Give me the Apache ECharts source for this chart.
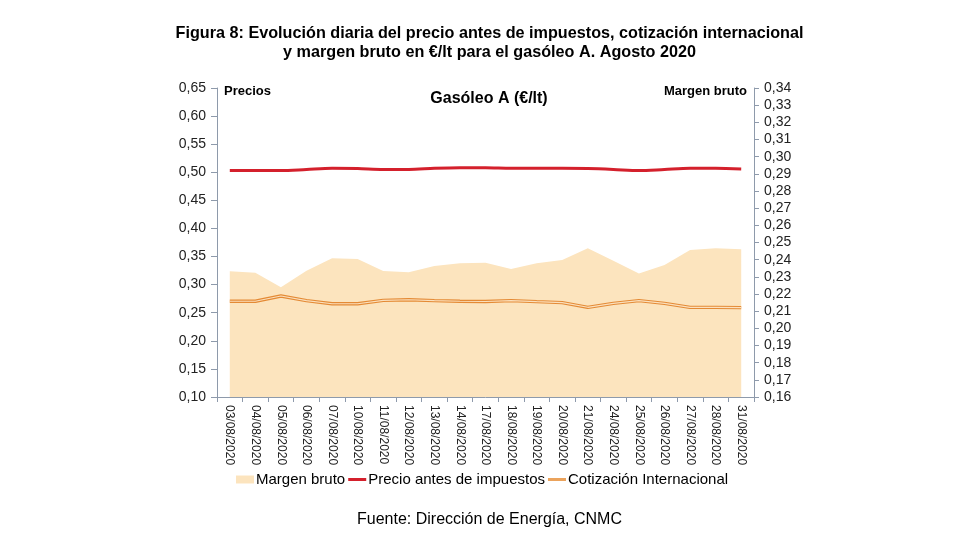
<!DOCTYPE html>
<html>
<head>
<meta charset="utf-8">
<script src="https://cdn.jsdelivr.net/npm/echarts@6/dist/echarts.min.js"></script>
<style>
html,body{margin:0;padding:0;background:#fff;}
#chart{width:979px;height:551px;}
</style>
</head>
<body>
<div id="chart"></div>
<script>
var categories = ['03/08/2020','04/08/2020','05/08/2020','06/08/2020','07/08/2020','10/08/2020','11/08/2020','12/08/2020','13/08/2020','14/08/2020','17/08/2020','18/08/2020','19/08/2020','20/08/2020','21/08/2020','24/08/2020','25/08/2020','26/08/2020','27/08/2020','28/08/2020','31/08/2020'];
var margenBruto = [0.2333,0.2324,0.2239,0.2336,0.2408,0.2404,0.2334,0.2326,0.2363,0.2379,0.2382,0.2346,0.2379,0.2398,0.2466,0.2394,0.2320,0.2369,0.2456,0.2466,0.2460];
var precioAntesImpuestos = [0.503,0.503,0.503,0.505,0.507,0.5065,0.505,0.505,0.507,0.508,0.508,0.507,0.507,0.507,0.5065,0.505,0.503,0.505,0.507,0.507,0.506];
var cotizacionInternacional = [0.2704,0.2704,0.2798,0.2715,0.2660,0.2660,0.2720,0.2732,0.2715,0.2704,0.2700,0.2715,0.2697,0.2680,0.2596,0.2667,0.2715,0.2667,0.2596,0.2596,0.2590];
var leftAxis = {min: 0.10, max: 0.65, interval: 0.05};
var rightAxis = {min: 0.16, max: 0.34, interval: 0.01};

var FONT = '"Liberation Sans", Arial, sans-serif';
var AXIS_COLOR = '#8e9aab';
var LINE_ICON = 'path://M0,0L0.05,0L0,0.05Z M0,2.6H18V5.4H0Z M18,8L17.95,8L18,7.95Z';
function fmt(v){ return v.toFixed(2).replace('.', ','); }

var chart = echarts.init(document.getElementById('chart'));
chart.setOption({
  animation: false,
  backgroundColor: '#ffffff',
  textStyle: {fontFamily: FONT},
  title: [
    {text: 'Figura 8: Evolución diaria del precio antes de impuestos, cotización internacional\ny margen bruto en €/lt para el gasóleo A. Agosto 2020',
     left: 'center', top: 19,
     textStyle: {fontFamily: FONT, fontSize: 16.2, fontWeight: 'bold', color: '#000', lineHeight: 19, align: 'center'}},
    {text: 'Gasóleo A (€/lt)', left: 484, top: 86, textAlign: 'center',
     textStyle: {fontFamily: FONT, fontSize: 16, fontWeight: 'bold', color: '#000'}},
    {text: 'Precios', left: 219, top: 80,
     textStyle: {fontFamily: FONT, fontSize: 13, fontWeight: 'bold', color: '#000'}},
    {text: 'Margen bruto', left: 742, top: 80, textAlign: 'right',
     textStyle: {fontFamily: FONT, fontSize: 13, fontWeight: 'bold', color: '#000'}},
    {text: 'Fuente: Dirección de Energía, CNMC', left: 'center', top: 507,
     textStyle: {fontFamily: FONT, fontSize: 16, fontWeight: 'normal', color: '#000'}}
  ],
  grid: {left: 217, right: 225, top: 88, bottom: 154, containLabel: false},
  legend: {
    left: 231, top: 467, itemGap: 3, itemWidth: 18, itemHeight: 8,
    textStyle: {fontFamily: FONT, fontSize: 15, color: '#000', padding: [0,0,0,-3]},
    data: [
      {name: 'Margen bruto', icon: 'rect', itemStyle: {color: '#fce4be'}},
      {name: 'Precio antes de impuestos', icon: LINE_ICON, itemStyle: {color: '#d4202c'}},
      {name: 'Cotización Internacional', icon: LINE_ICON, itemStyle: {color: '#eba35c'}}
    ]
  },
  xAxis: {
    type: 'category', data: categories, boundaryGap: true,
    axisLine: {lineStyle: {color: AXIS_COLOR, width: 1}},
    axisTick: {show: true, interval: 0, length: 5, lineStyle: {color: AXIS_COLOR}},
    axisLabel: {interval: 0, rotate: -90, margin: 8, fontFamily: FONT, fontSize: 12, color: '#222'}
  },
  yAxis: [
    {type: 'value', position: 'left', min: leftAxis.min, max: leftAxis.max, interval: leftAxis.interval,
     splitLine: {show: false},
     axisLine: {show: true, lineStyle: {color: AXIS_COLOR}},
     axisTick: {show: true, length: 6, lineStyle: {color: AXIS_COLOR}},
     axisLabel: {formatter: fmt, margin: 11, fontFamily: FONT, fontSize: 14, color: '#222'}},
    {type: 'value', position: 'right', min: rightAxis.min, max: rightAxis.max, interval: rightAxis.interval,
     splitLine: {show: false},
     axisLine: {show: true, lineStyle: {color: AXIS_COLOR}},
     axisTick: {show: true, length: 5, lineStyle: {color: AXIS_COLOR}},
     axisLabel: {formatter: fmt, margin: 10, fontFamily: FONT, fontSize: 14, color: '#222'}}
  ],
  series: [
    {name: 'Margen bruto', type: 'line', yAxisIndex: 1, data: margenBruto,
     symbol: 'none', lineStyle: {width: 0, color: '#fce4be'}, itemStyle: {color: '#fce4be'},
     areaStyle: {color: '#fce4be', opacity: 1}, z: 1},
    {name: 'Precio antes de impuestos', type: 'line', yAxisIndex: 0, data: precioAntesImpuestos,
     symbol: 'none', smooth: 0.3, lineStyle: {width: 3, color: '#d4202c'}, itemStyle: {color: '#d4202c'}, z: 3},
    {name: 'Cotización Internacional', type: 'line', yAxisIndex: 0, data: cotizacionInternacional,
     symbol: 'none', lineStyle: {width: 3.4, color: '#e48a35'}, itemStyle: {color: '#eba35c'}, z: 3},
    {name: 'cotizacion-inner', type: 'line', yAxisIndex: 0, data: cotizacionInternacional,
     symbol: 'none', lineStyle: {width: 1.1, color: '#fbe0bd'}, itemStyle: {color: '#fbe0bd'}, z: 4, silent: true}
  ]
});
</script>
</body>
</html>
